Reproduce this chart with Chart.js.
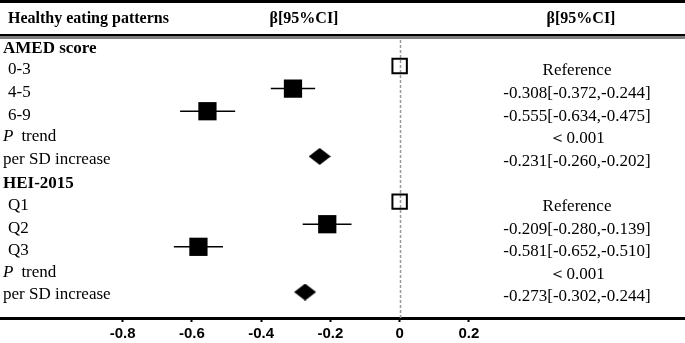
<!DOCTYPE html>
<html>
<head>
<meta charset="utf-8">
<script src="https://cdn.jsdelivr.net/npm/chart.js@4/dist/chart.umd.min.js"></script>
<style>
  html, body { margin: 0; padding: 0; background: #fff; }
  #wrap { width: 685px; height: 343px; }
</style>
</head>
<body>
<div id="wrap"><canvas id="forest" width="685" height="343"></canvas></div>
<script>
// --- data (rows top to bottom) ---
const rowLabels = ['AMED score', '0-3', '4-5', '6-9', 'P trend', 'per SD increase',
                   'HEI-2015', 'Q1', 'Q2', 'Q3', 'P trend', 'per SD increase'];
const rowKinds  = ['head', 'sub', 'sub', 'sub', 'p', 'plain',
                   'head', 'sub', 'sub', 'sub', 'p', 'plain'];
const betas     = [null, 0, -0.308, -0.555, null, -0.231, null, 0, -0.209, -0.581, null, -0.273];
const ciLow     = [null, null, -0.372, -0.634, null, -0.260, null, null, -0.280, -0.652, null, -0.302];
const ciHigh    = [null, null, -0.244, -0.475, null, -0.202, null, null, -0.139, -0.510, null, -0.244];
const markerKinds = [null, 'ref', 'est', 'est', null, 'sd', null, 'ref', 'est', 'est', null, 'sd'];
const rightTexts = ['', 'Reference', '-0.308[-0.372,-0.244]', '-0.555[-0.634,-0.475]', '\uFF1C0.001',
                    '-0.231[-0.260,-0.202]', '', 'Reference', '-0.209[-0.280,-0.139]',
                    '-0.581[-0.652,-0.510]', '\uFF1C0.001', '-0.273[-0.302,-0.244]'];
const headerTexts = ['Healthy eating patterns', '\u03B2[95%CI]', '\u03B2[95%CI]'];
const tickValues = [-0.8, -0.6, -0.4, -0.2, 0, 0.2];
const tickLabels = ['-0.8', '-0.6', '-0.4', '-0.2', '0', '0.2'];

const SERIF = '"Liberation Serif", "Times New Roman", serif';

// diamond marker for the per-SD rows
function makeDiamond() {
    const c = document.createElement('canvas');
    c.width = 22; c.height = 17;
    const g = c.getContext('2d');
    g.fillStyle = '#000';
    g.beginPath();
    g.moveTo(11, 0); g.lineTo(22, 8.5); g.lineTo(11, 17); g.lineTo(0, 8.5);
    g.closePath();
    g.fill();
    return c;
}
const diamond = makeDiamond();

const datasets = [];

// CI whiskers (drawn under the markers)
betas.forEach((b, i) => {
    if (ciLow[i] == null || markerKinds[i] === 'sd') return;
    datasets.push({
        type: 'line',
        data: [{ x: ciLow[i], y: i }, { x: ciHigh[i], y: i }],
        borderColor: '#000',
        borderWidth: 1.5,
        pointRadius: 0,
        showLine: true,
        order: 2
    });
});

const pts = (kind) => betas.map((b, i) => markerKinds[i] === kind ? { x: b, y: i } : null).filter(p => p);

datasets.push({
    data: pts('ref'),
    pointStyle: 'rect',
    pointRadius: 10.2,
    borderWidth: 2,
    borderColor: '#000',
    backgroundColor: 'rgba(0,0,0,0)',
    order: 1
});
datasets.push({
    data: pts('est'),
    pointStyle: 'rect',
    pointRadius: 12.9,
    borderWidth: 0,
    backgroundColor: '#000',
    order: 1
});
datasets.push({
    data: pts('sd'),
    pointStyle: diamond,
    pointRadius: 11,
    order: 1
});

const tablePlugin = {
    id: 'tablePlugin',
    beforeDatasetsDraw(chart) {
        // dashed null line at 0
        const { ctx, chartArea, scales } = chart;
        const x0 = Math.round(scales.x.getPixelForValue(0)) + 0.5;
        ctx.save();
        ctx.strokeStyle = '#999';
        ctx.lineWidth = 1.5;
        ctx.setLineDash([3, 2]);
        ctx.beginPath();
        ctx.moveTo(x0, chartArea.top + 2);
        ctx.lineTo(x0, chartArea.bottom);
        ctx.stroke();
        ctx.restore();
    },
    afterDraw(chart) {
        const { ctx, width, scales } = chart;
        const y = scales.y;
        ctx.save();
        ctx.fillStyle = '#000';
        ctx.strokeStyle = '#000';

        // top rule and header rules
        ctx.fillRect(0, 0, width, 3);
        ctx.fillRect(0, 34, width, 2.5);
        ctx.fillRect(0, 37.5, width, 1);

        // header
        ctx.textBaseline = 'middle';
        ctx.font = 'bold 16px ' + SERIF;
        ctx.textAlign = 'left';
        ctx.fillText(headerTexts[0], 8, 19);
        ctx.textAlign = 'center';
        ctx.fillText(headerTexts[1], 304, 19);
        ctx.fillText(headerTexts[2], 581, 19);

        // row labels
        rowLabels.forEach((lab, i) => {
            const base = y.getPixelForValue(i);
            ctx.textAlign = 'left';
            if (rowKinds[i] === 'head') {
                ctx.font = 'bold 17px ' + SERIF;
                ctx.fillText(lab, 3, base + 5);
            } else if (rowKinds[i] === 'sub') {
                ctx.font = '17px ' + SERIF;
                ctx.fillText(lab, 8, base + 4);
            } else if (rowKinds[i] === 'p') {
                ctx.font = 'italic 17px ' + SERIF;
                ctx.fillText('P', 3, base + 3);
                const w = ctx.measureText('P').width;
                ctx.font = '17px ' + SERIF;
                ctx.fillText(lab.slice(2), 3 + w + 8, base + 3);
            } else {
                ctx.font = '17px ' + SERIF;
                ctx.fillText(lab, 3, base + 3);
            }
            if (rightTexts[i]) {
                ctx.font = '17px ' + SERIF;
                ctx.textAlign = 'center';
                ctx.fillText(rightTexts[i], 577, base + 5);
            }
        });
        ctx.restore();
    }
};

new Chart(document.getElementById('forest'), {
    type: 'scatter',
    data: { datasets },
    options: {
        responsive: false,
        animation: false,
        layout: { autoPadding: false, padding: { top: 38, left: 0, right: 0, bottom: 0 } },
        plugins: { legend: { display: false }, tooltip: { enabled: false } },
        scales: {
            x: {
                type: 'linear',
                min: -1.154,
                max: 0.824,
                afterFit: s => { s.height = 25; },
                afterBuildTicks: s => { s.ticks = tickValues.map(v => ({ value: v })); },
                ticks: {
                    callback: (v, idx) => tickLabels[idx],
                    color: '#000',
                    padding: 3,
                    font: { family: '"Liberation Sans", Arial, sans-serif', weight: 'bold', size: 15 }
                },
                grid: { drawOnChartArea: false, drawTicks: true, tickLength: 4, tickWidth: 2, color: '#000' },
                border: { display: true, width: 3, color: '#000' }
            },
            y: {
                type: 'linear',
                display: false,
                reverse: true,
                min: -0.24,
                max: 12.15
            }
        }
    },
    plugins: [tablePlugin]
});
</script>
</body>
</html>
